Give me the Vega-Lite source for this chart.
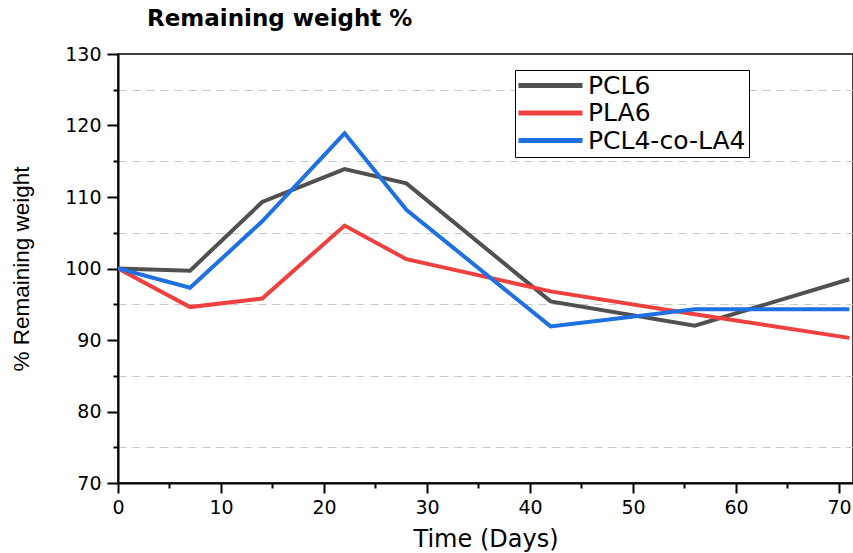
{
  "$schema": "https://vega.github.io/schema/vega-lite/v6.json",
  "autosize": {"type": "none"},
  "width": 735,
  "height": 429,
  "padding": {"left": 118, "top": 54, "right": 0, "bottom": 70},
  "background": "white",
  "title": {
    "text": "Remaining weight %",
    "anchor": "start",
    "frame": "group",
    "font": "DejaVu Sans",
    "fontSize": 23,
    "fontWeight": "bold",
    "color": "black",
    "dx": 29,
    "offset": 14
  },
  "config": {
    "font": "DejaVu Sans",
    "view": {"stroke": "black", "strokeWidth": 1.5}
  },
  "data": {
    "values": [
      {"day": 0, "value": 100.0, "sample": "PCL6"},
      {"day": 7, "value": 99.7, "sample": "PCL6"},
      {"day": 14, "value": 109.3, "sample": "PCL6"},
      {"day": 22, "value": 113.9, "sample": "PCL6"},
      {"day": 28, "value": 111.9, "sample": "PCL6"},
      {"day": 42, "value": 95.4, "sample": "PCL6"},
      {"day": 56, "value": 92.0, "sample": "PCL6"},
      {"day": 71, "value": 98.5, "sample": "PCL6"},
      {"day": 0, "value": 100.0, "sample": "PLA6"},
      {"day": 7, "value": 94.6, "sample": "PLA6"},
      {"day": 14, "value": 95.8, "sample": "PLA6"},
      {"day": 22, "value": 106.0, "sample": "PLA6"},
      {"day": 28, "value": 101.3, "sample": "PLA6"},
      {"day": 42, "value": 96.8, "sample": "PLA6"},
      {"day": 56, "value": 93.6, "sample": "PLA6"},
      {"day": 71, "value": 90.3, "sample": "PLA6"},
      {"day": 0, "value": 100.0, "sample": "PCL4-co-LA4"},
      {"day": 7, "value": 97.3, "sample": "PCL4-co-LA4"},
      {"day": 14, "value": 106.6, "sample": "PCL4-co-LA4"},
      {"day": 22, "value": 118.9, "sample": "PCL4-co-LA4"},
      {"day": 28, "value": 108.2, "sample": "PCL4-co-LA4"},
      {"day": 42, "value": 91.9, "sample": "PCL4-co-LA4"},
      {"day": 56, "value": 94.3, "sample": "PCL4-co-LA4"},
      {"day": 71, "value": 94.3, "sample": "PCL4-co-LA4"}
    ]
  },
  "mark": {"type": "line", "strokeWidth": 4, "clip": true},
  "encoding": {
    "x": {
      "field": "day",
      "type": "quantitative",
      "title": "Time (Days)",
      "scale": {"domain": [0, 71.36], "nice": false, "zero": false},
      "axis": {
        "values": [0, 5, 10, 15, 20, 25, 30, 35, 40, 45, 50, 55, 60, 65, 70],
        "labelExpr": "datum.value % 10 === 0 ? datum.label : ''",
        "tickSize": {"condition": {"test": "datum.value % 10 === 0", "value": 10}, "value": 5},
        "grid": false,
        "domainColor": "black",
        "domainWidth": 2,
        "tickColor": "black",
        "tickWidth": 2,
        "labelColor": "black",
        "titleColor": "black",
        "labelFont": "DejaVu Sans",
        "titleFont": "DejaVu Sans",
        "labelFontSize": 19,
        "titleFontSize": 24,
        "titleFontWeight": "normal",
        "labelPadding": 5,
        "titlePadding": 10,
        "labelFlush": false,
        "labelOverlap": false
      }
    },
    "y": {
      "field": "value",
      "type": "quantitative",
      "title": "% Remaining weight",
      "scale": {"domain": [70, 130], "nice": false, "zero": false},
      "axis": {
        "values": [70, 75, 80, 85, 90, 95, 100, 105, 110, 115, 120, 125, 130],
        "labelExpr": "datum.value % 10 === 0 ? datum.label : ''",
        "tickSize": {"condition": {"test": "datum.value % 10 === 0", "value": 11}, "value": 5},
        "grid": true,
        "gridColor": "#c8c8c8",
        "gridDash": [8, 6],
        "gridWidth": 1.2,
        "gridOpacity": {"condition": {"test": "datum.value % 10 === 5", "value": 1}, "value": 0},
        "domainColor": "black",
        "domainWidth": 2,
        "tickColor": "black",
        "tickWidth": 2,
        "labelColor": "black",
        "titleColor": "black",
        "labelFont": "DejaVu Sans",
        "titleFont": "Liberation Sans",
        "labelFontSize": 19,
        "titleFontSize": 22.5,
        "titleFontWeight": "normal",
        "labelPadding": 6,
        "titlePadding": 31,
        "labelFlush": false,
        "labelOverlap": false
      }
    },
    "color": {
      "field": "sample",
      "type": "nominal",
      "sort": ["PCL6", "PLA6", "PCL4-co-LA4"],
      "scale": {"domain": ["PCL6", "PLA6", "PCL4-co-LA4"], "range": ["#505050", "#ef4040", "#1f70e0"]},
      "legend": {
        "title": null,
        "orient": "none",
        "legendX": 397,
        "legendY": 16,
        "strokeColor": "black",
        "fillColor": "white",
        "padding": 3,
        "symbolType": "M-4,0H4",
        "symbolSize": 256,
        "symbolStrokeWidth": 5,
        "symbolOffset": 20,
        "labelFont": "DejaVu Sans",
        "labelFontSize": 25,
        "labelColor": "black",
        "labelOffset": 25,
        "rowPadding": 1.5,
        "labelLimit": 300
      }
    }
  }
}
